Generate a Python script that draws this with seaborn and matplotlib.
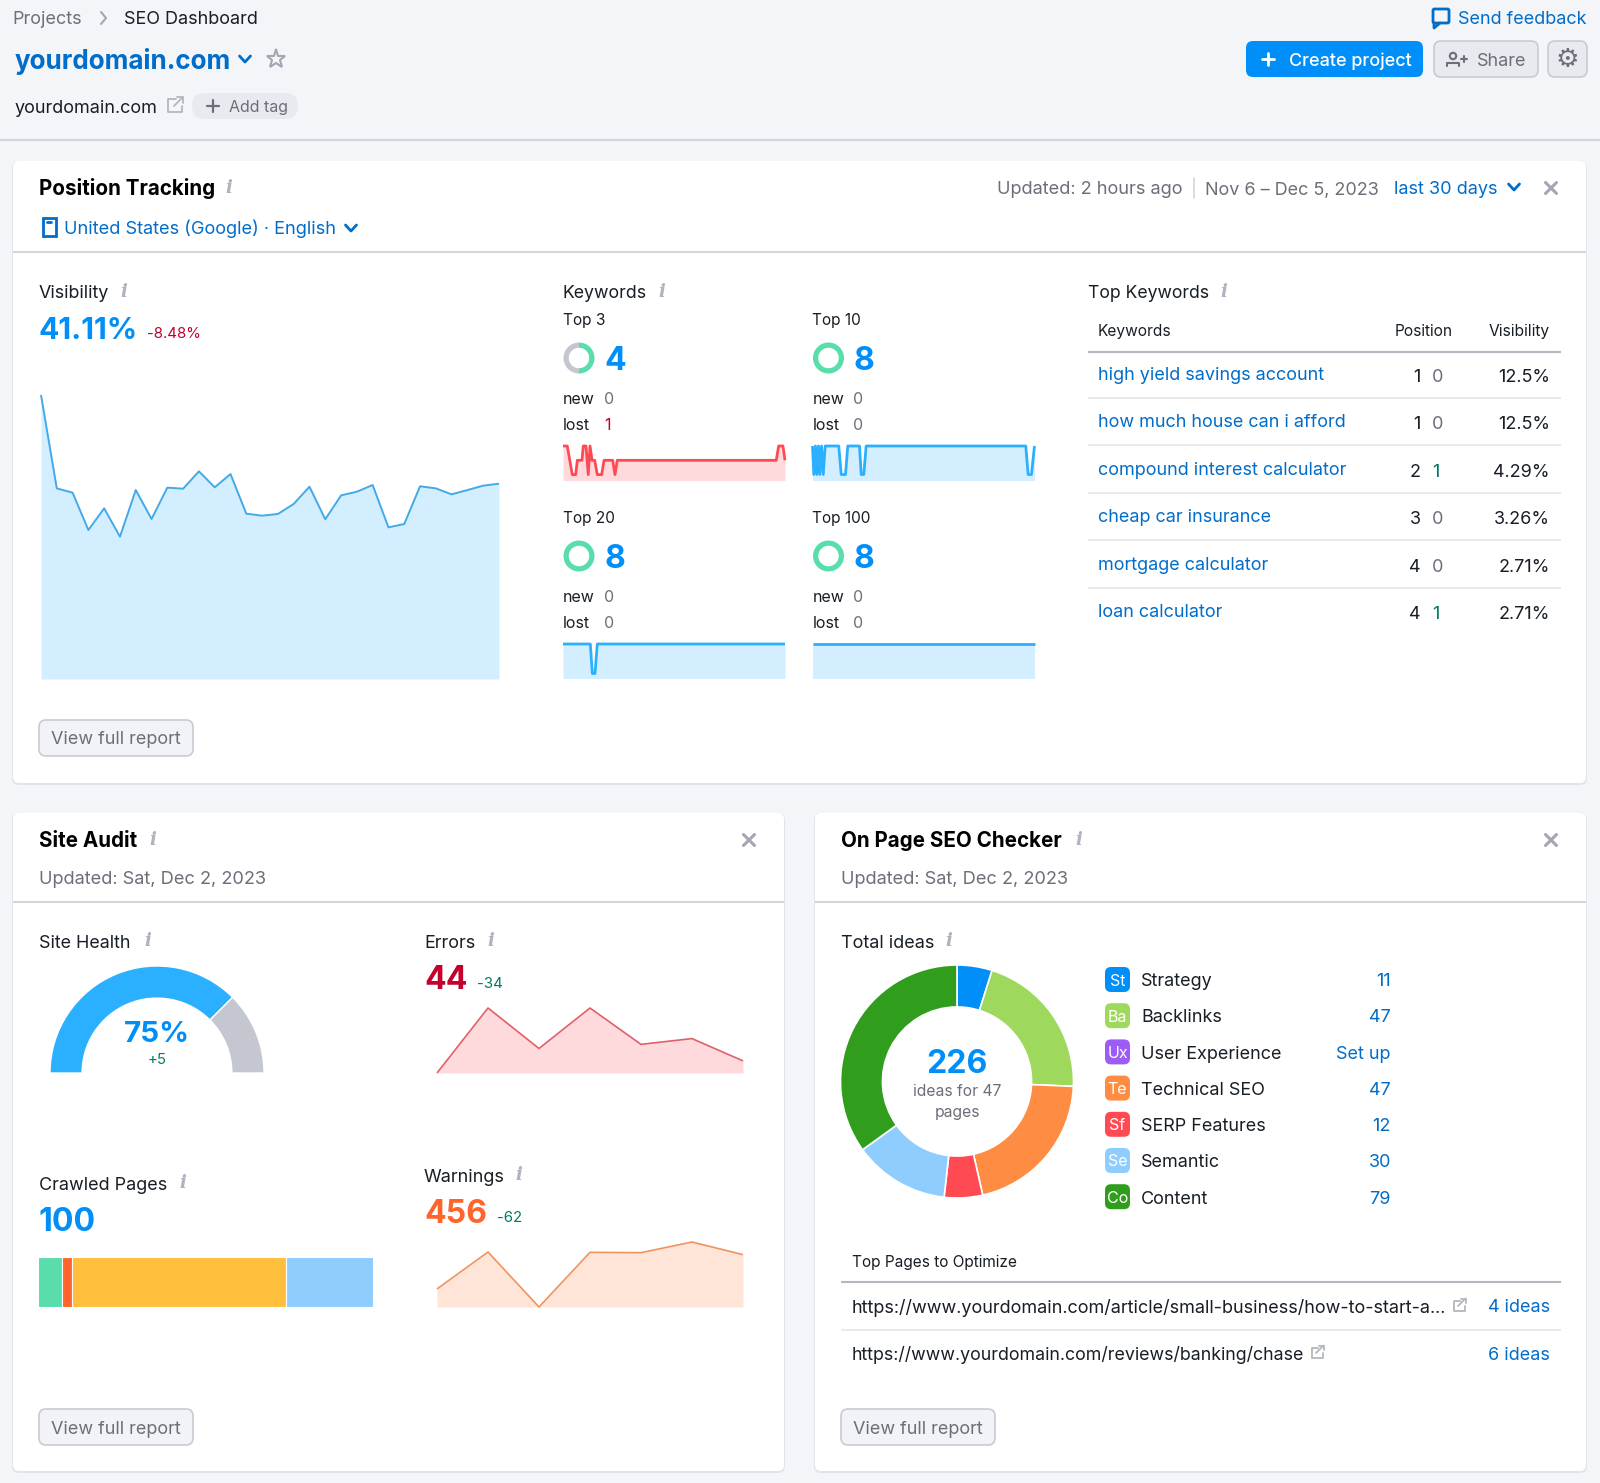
import matplotlib
matplotlib.use("Agg")
import matplotlib.pyplot as plt
import seaborn as sns
from matplotlib.patches import FancyBboxPatch, Circle, Rectangle

# visibility, one value per day
visibility_days = list(range(30))
visibility = [49.59, 40.66, 40.25, 36.68, 38.75, 36.04, 40.50, 37.73, 40.73, 40.63,
              42.29, 40.76, 42.03, 38.24, 38.05, 38.21, 39.17, 40.82, 37.70, 39.99,
              40.34, 40.98, 36.93, 37.25, 40.86, 40.66, 40.09, 40.50, 40.92, 41.11]

# keyword sparklines
top3_days = [0, 0.56, 1.21, 1.66, 1.87, 2.48, 2.65, 3.0, 3.3, 3.53, 3.79, 4.14, 4.48, 5.05,
             5.36, 6.49, 6.79, 7.09, 27.86, 28.17, 28.73, 29]
top3_vals = [5, 5, 3, 3, 4, 4, 5, 5, 3, 5, 4, 4, 3, 3, 4, 4, 3, 4, 4, 5, 5, 4]
top10_days = [0, .17, .39, .56, .78, .95, 1.18, 1.4, 1.66, 3.43, 3.75, 4.31, 4.61, 6.14, 6.36,
              6.7, 7.01, 27.86, 28.17, 28.6, 29]
top10_vals = [8, 7, 8, 7, 8, 7, 8, 7, 8, 8, 7, 7, 8, 8, 7, 7, 8, 8, 7, 7, 8]
top20_days = [0, 3.57, 3.83, 4.18, 4.48, 29]
top20_vals = [8, 8, 7, 7, 8, 8]
top100_days = [0, 29]
top100_vals = [8, 8]

# top keywords table
kw_names = ["high yield savings account", "how much house can i afford", "compound interest calculator",
            "cheap car insurance", "mortgage calculator", "loan calculator"]
kw_pos = [1, 1, 2, 3, 4, 4]
kw_change = [0, 0, 1, 0, 0, 1]
kw_vis = ["12.5%", "12.5%", "4.29%", "3.26%", "2.71%", "2.71%"]

# site audit
audit_days = [0, 1, 2, 3, 4, 5, 6]
errors = [0, 236, 89, 236, 104, 125, 44]
warnings_ = [157, 479, 0, 476, 473, 566, 456]
crawled = [7, 3, 64, 26]
crawled_colors = ["#59ddaa", "#ff642d", "#ffbf3d", "#8fcdff"]
health = [75, 25]

# on page ideas
idea_names = ["Strategy", "Backlinks", "User Experience", "Technical SEO", "SERP Features", "Semantic", "Content"]
idea_chips = ["St", "Ba", "Ux", "Te", "Sf", "Se", "Co"]
idea_labels = ["11", "47", "Set up", "47", "12", "30", "79"]
idea_counts = [11, 47, 47, 12, 30, 79]
idea_donut_colors = ["#008ff8", "#9ed95e", "#ff8c43", "#ff4953", "#8fcdff", "#309e1c"]
idea_chip_colors = ["#008ff8", "#9ed95e", "#9d5cf5", "#ff8c43", "#ff4953", "#8fcdff", "#309e1c"]

BG = "#f4f5f9"
BLUE = "#008ff8"
LINK = "#006dca"
DARK = "#181e25"
GRAY = "#6c6e79"
RED = "#c4002d"
TEAL = "#007c65"

sns.set_theme(style="white")
plt.rcParams["font.family"] = ["Inter", "DejaVu Sans"]
plt.rcParams["lines.solid_capstyle"] = "butt"

W, H = 1600, 1483
fig = plt.figure(figsize=(W / 100, H / 100), dpi=100, facecolor=BG)
bg = fig.add_axes([0, 0, 1, 1])
bg.set_xlim(0, W)
bg.set_ylim(H, 0)
bg.axis("off")


def txt(x, y, s, px=18, color=DARK, weight="normal", ha="left"):
    return bg.text(x, y, s, fontsize=px * 0.72, color=color, fontweight=weight, ha=ha, va="center_baseline", zorder=5)


def info(x, y):
    bg.text(x, y + 1, "i", fontsize=13, color="#b0b2bd", family="DejaVu Serif", style="italic",
            fontweight="bold", ha="center", va="center", zorder=5)


def lines(xs, ys, color=GRAY, lw=1.6):
    bg.plot(xs, ys, color=color, lw=lw, solid_capstyle="round", solid_joinstyle="round", zorder=5)


def chevron(x, y, color=LINK):
    lines([x - 5.5, x, x + 5.5], [y - 3, y + 3, y - 3], color, 2)


def close(x, y):
    lines([x - 5.5, x + 5.5], [y - 5.5, y + 5.5], "#a4a6b3", 2.2)
    lines([x - 5.5, x + 5.5], [y + 5.5, y - 5.5], "#a4a6b3", 2.2)


def ext(x, y, s=7):
    lines([x + 1, x - s, x - s, x + s, x + s], [y - s + 1, y - s + 1, y + s, y + s, y + 1], "#b4b6c0", 1.3)
    lines([x - 1, x + s + 1], [y + 1, y - s - 1], "#b4b6c0", 1.3)
    lines([x + 2, x + s + 1, x + s + 1], [y - s - 1, y - s - 1, y - 2], "#b4b6c0", 1.3)


def box(x0, y0, x1, y1, r=5, fc="white", ec="none", lw=1, z=2):
    bg.add_patch(FancyBboxPatch((x0 + r, y0 + r), x1 - x0 - 2 * r, y1 - y0 - 2 * r,
                                boxstyle=f"round,pad={r},rounding_size={r}", fc=fc, ec=ec, lw=lw, zorder=z))


def card(x0, y0, x1, y1):
    box(x0 - 1, y0, x1 + 1, y1 + 2, 7, "#e1e3ea", "none", z=1)
    box(x0, y0, x1, y1, 6, "white", "none", z=1.1)


def button(x0, y0, x1, y1, label):
    box(x0, y0, x1, y1, 7, "#f2f3f7", "#c9cbd3", 1.2)
    txt((x0 + x1) / 2, (y0 + y1) / 2, label, 18, GRAY, ha="center")


def inset(x0, y0, x1, y1):
    ax = fig.add_axes([x0 / W, 1 - y1 / H, (x1 - x0) / W, (y1 - y0) / H])
    ax.axis("off")
    ax.patch.set_alpha(0)
    return ax


def area(rect, xs, ys, line, fill, lw, ylim):
    ax = inset(*rect)
    ax.fill_between(xs, ys, ylim[0], color=fill, lw=0)
    sns.lineplot(x=xs, y=ys, ax=ax, color=line, lw=lw, estimator=None, legend=False)
    ax.set_xlim(xs[0], xs[-1])
    ax.set_ylim(*ylim)
    ax.axis("off")
    for l in ax.get_lines():
        l.set_clip_on(False)
    return ax


def ring(cx, cy, r, vals, colors, width, edge="white", elw=0):
    ax = inset(cx - r, cy - r, cx + r, cy + r)
    ax.pie(vals, colors=colors, startangle=90, counterclock=False, radius=1,
           wedgeprops=dict(width=width, edgecolor=edge, linewidth=elw))
    ax.set_xlim(-1, 1)
    ax.set_ylim(-1, 1)
    return ax


# header
txt(12.5, 18, "Projects", 18, GRAY)
lines([101, 106, 101], [12, 18, 24], "#a4a6b3", 1.5)
txt(124, 18, "SEO Dashboard", 18, DARK)
box(1433, 9, 1449, 23, 1.5, "none", LINK, 2)
lines([1434, 1434, 1440], [23, 28, 23], LINK, 2)
txt(1586, 18, "Send feedback", 18, LINK, ha="right")
txt(15, 58.5, "yourdomain.com", 26, LINK, "bold")
chevron(245, 59)
bg.plot([276], [59], marker="*", ms=14, mfc="none", mec="#a4a6b3", mew=1.5, zorder=5)
box(1246, 41, 1423, 77, 7, BLUE, "none")
lines([1262, 1274], [59, 59], "white", 2)
lines([1268, 1268], [53, 65], "white", 2)
txt(1350, 59.5, "Create project", 18, "white", "medium", ha="center")
box(1434, 41, 1538, 77, 7, "#e9eaf0", "#c9cbd3", 1.2)
bg.add_patch(Circle((1453, 56), 3.2, fc="none", ec=GRAY, lw=1.5, zorder=5))
lines([1447, 1447, 1459, 1459], [66, 62.5, 62.5, 66], GRAY, 1.5)
lines([1461, 1467], [59, 59], GRAY, 1.5)
lines([1464, 1464], [56, 62], GRAY, 1.5)
txt(1477, 59.5, "Share", 18, GRAY)
box(1548, 41, 1587, 77, 7, "#e9eaf0", "#c9cbd3", 1.2)
bg.text(1567.5, 60, "⚙", fontsize=19, color=GRAY, family="DejaVu Sans", ha="center", va="center", zorder=5)
txt(15, 106.5, "yourdomain.com", 18, DARK)
ext(175, 105)
box(192, 93, 298, 119, 13, "#e9eaf0", "none")
lines([207, 219], [106, 106], GRAY, 1.6)
lines([213, 213], [100, 112], GRAY, 1.6)
txt(229, 106, "Add tag", 16, GRAY)
bg.plot([0, W], [140, 140], color="#d3d5dc", lw=1.5)

# cards
card(13, 161, 1586, 783)
card(13, 813, 784, 1471)
card(815, 813, 1586, 1471)

# position tracking header
txt(39, 186.5, "Position Tracking", 20.6, "black", "bold")
info(229, 187)
txt(997, 188, "Updated: 2 hours ago", 18.2, GRAY)
lines([1194, 1194], [178, 198], "#d3d5dc", 1.2)
txt(1205, 188, "Nov 6 – Dec 5, 2023", 18, GRAY)
txt(1394, 188, "last 30 days", 18.1, LINK)
chevron(1514, 187)
close(1551, 188)
bg.add_patch(Rectangle((42.5, 218), 13, 18, fc="none", ec=LINK, lw=2, zorder=5))
lines([47, 51], [222, 222], LINK, 2)
txt(64, 227, "United States (Google) · English", 18.2, LINK)
chevron(351, 228)
bg.plot([13, 1586], [252, 252], color="#d3d5dc", lw=1.5, zorder=3)

# visibility
txt(39, 291, "Visibility", 17.9, DARK)
info(124, 291)
txt(39, 328, "41.11%", 30, BLUE, "bold")
txt(147, 333, "-8.48%", 15, RED)
area((41, 395, 499, 679), visibility_days, visibility, "#44a9e8", "#d3efff", 1.4, (22.43, 49.59))

# keywords grid
txt(562.5, 291, "Keywords", 17.7, DARK)
info(662, 291)
blocks = [
    (563, 319, "Top 3", "4", [4, 4], 1, top3_days, top3_vals, "#ff4953", "#ffdadd", (2.59, 5)),
    (812.5, 319, "Top 10", "8", [8, 0], 0, top10_days, top10_vals, "#2bb0ff", "#d3efff", (6.79, 8)),
    (563, 517, "Top 20", "8", [8, 0], 0, top20_days, top20_vals, "#2bb0ff", "#d3efff", (6.83, 8)),
    (812.5, 517, "Top 100", "8", [8, 0], 0, top100_days, top100_vals, "#2bb0ff", "#d3efff", (6.83, 8)),
]
for bx, by, name, count, donut, lost, days, vals, c, f, yl in blocks:
    txt(bx, by, name, 15.4, DARK)
    ring(bx + 16, by + 39, 15.5, donut, ["#59ddaa", "#c4c7cf"], 0.34)
    txt(bx + 41, by + 39.5, count, 32, BLUE, "bold")
    txt(bx, by + 79, "new", 16, DARK)
    txt(bx + 41, by + 79, "0", 16, GRAY)
    txt(bx, by + 105, "lost", 16, DARK)
    txt(bx + 41, by + 105, str(lost), 16, RED if lost else GRAY)
    top = by + 127
    area((bx, top, bx + 222, top + 34.5), days, vals, c, f, 2.0, yl)

# top keywords table
txt(1088, 291, "Top Keywords", 17.6, DARK)
info(1224, 291)
txt(1098, 330, "Keywords", 15.5, DARK)
txt(1453, 330, "Position", 15.5, DARK, ha="right")
txt(1550, 330, "Visibility", 15.6, DARK, ha="right")
bg.plot([1088, 1561], [351.5, 351.5], color="#b4b6c0", lw=1.5, zorder=3)
for i, name in enumerate(kw_names):
    y = 373.5 + i * 47.4
    txt(1098, y, name, 18, LINK)
    txt(1421, y + 2, str(kw_pos[i]), 18, DARK, ha="right")
    txt(1432, y + 2, str(kw_change[i]), 18, TEAL if kw_change[i] else GRAY)
    txt(1550, y + 2, kw_vis[i], 18, DARK, ha="right")
    if i < 5:
        bg.plot([1088, 1561], [y + 24.5, y + 24.5], color="#e4e6ec", lw=1.2, zorder=3)
button(39, 720, 193, 756, "View full report")

# site audit
txt(39, 839, "Site Audit", 20.6, "black", "bold")
info(153, 839)
close(749, 840)
txt(39, 878, "Updated: Sat, Dec 2, 2023", 18.2, GRAY)
bg.plot([13, 784], [902, 902], color="#d3d5dc", lw=1.5, zorder=3)

txt(39, 941, "Site Health", 17.9, DARK)
info(148, 940)
gauge = inset(50, 966, 264, 1180)
wedges, _ = gauge.pie(health + [sum(health)], colors=["#2bb0ff", "#c4c7cf", "white"], startangle=180,
                      counterclock=False, radius=1, wedgeprops=dict(width=0.3, edgecolor="white", linewidth=1))
wedges[2].set_visible(False)
gauge.set_xlim(-1, 1)
gauge.set_ylim(-1, 1)
txt(156.5, 1031, "75%", 29.5, BLUE, "bold", ha="center")
txt(157, 1059, "+5", 15, TEAL, ha="center")

txt(424, 941, "Errors", 18, DARK)
info(491, 940)
txt(424, 977, "44", 32, RED, "bold")
txt(477, 983, "-34", 15, TEAL)
area((437, 1008, 743, 1073), audit_days, errors, "#e0606a", "#ffdadd", 1.2, (0, 236))

txt(39, 1183, "Crawled Pages", 18, DARK)
info(183, 1182)
txt(39, 1219, "100", 32, BLUE, "bold")
bar = inset(38.3, 1257, 372.6, 1307)
left = 0
for v, c in zip(crawled, crawled_colors):
    bar.barh(0, v, left=left, color=c, edgecolor="white", linewidth=0.8, height=1)
    left += v
bar.set_xlim(0, sum(crawled))
bar.set_ylim(-0.5, 0.5)
bar.axis("off")

txt(424, 1175, "Warnings", 18, DARK)
info(519, 1174)
txt(424, 1211, "456", 32, "#ff642d", "bold")
txt(497, 1217, "-62", 15, TEAL)
area((437, 1242, 743, 1307), audit_days, warnings_, "#f0935f", "#ffe5d8", 1.2, (0, 566))
button(39, 1409, 193, 1445, "View full report")

# on page seo checker
txt(841, 839, "On Page SEO Checker", 20.6, "black", "bold")
info(1079, 839)
close(1551, 840)
txt(841, 878, "Updated: Sat, Dec 2, 2023", 18.2, GRAY)
bg.plot([815, 1586], [902, 902], color="#d3d5dc", lw=1.5, zorder=3)
txt(841, 941, "Total ideas", 18, DARK)
info(949, 940)
ring(957, 1081.5, 116.5, idea_counts, idea_donut_colors, 0.36, "white", 1.2)
txt(957, 1061, "226", 32, BLUE, "bold", ha="center")
txt(957, 1090, "ideas for 47", 15.7, GRAY, ha="center")
txt(957, 1110.5, "pages", 15.7, GRAY, ha="center")
for i, name in enumerate(idea_names):
    y = 979.5 + i * 36.2
    box(1105, y - 12.5, 1130, y + 12.5, 6, idea_chip_colors[i], "none")
    txt(1117.5, y, idea_chips[i], 16, "white", ha="center")
    txt(1141, y + 0.3, name, 18, DARK)
    txt(1391, y + 0.3, idea_labels[i], 18, LINK, ha="right")
txt(852, 1261, "Top Pages to Optimize", 15.4, DARK)
bg.plot([841, 1561], [1282, 1282], color="#b4b6c0", lw=1.5, zorder=3)
txt(852, 1306, "https://www.yourdomain.com/article/small-business/how-to-start-a...", 18.05, DARK)
ext(1459, 1305, 5.5)
txt(1550, 1306, "4 ideas", 18, LINK, ha="right")
bg.plot([841, 1561], [1330, 1330], color="#e4e6ec", lw=1.2, zorder=3)
txt(852, 1353, "https://www.yourdomain.com/reviews/banking/chase", 17.8, DARK)
ext(1317, 1352, 5.5)
txt(1550, 1353, "6 ideas", 18, LINK, ha="right")
button(841, 1409, 995, 1445, "View full report")

fig.savefig("out.png", dpi=100, facecolor=BG)
